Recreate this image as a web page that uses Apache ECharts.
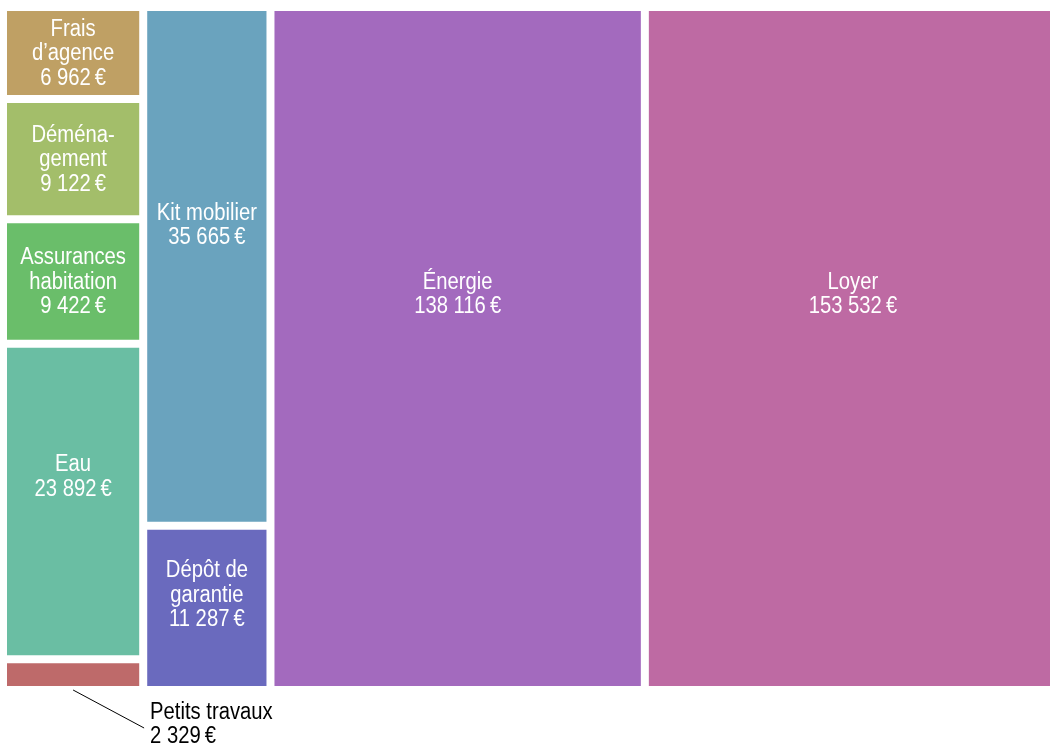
<!DOCTYPE html>
<html>
<head>
<meta charset="utf-8">
<script src="https://cdn.jsdelivr.net/npm/echarts@6/dist/echarts.min.js"></script>
<style>
  html, body { margin: 0; padding: 0; background: #fff; overflow: hidden; width: 1050px; height: 745px; }
  #chart { width: 1064px; height: 745px; }
</style>
</head>
<body>
<div id="chart"></div>
<script>
// Budget items, stacked column by column from left to right
const categories = ['Frais\nd’agence', 'Déména-\ngement', 'Assurances\nhabitation', 'Eau', 'Petits travaux',
                    'Kit mobilier', 'Dépôt de garantie', 'Énergie', 'Loyer'];
const amounts = [6962, 9122, 9422, 23892, 2329, 35665, 11287, 138116, 153532];
const columnOf = [0, 0, 0, 0, 0, 1, 1, 2, 3];
const colors = ['#bfa064', '#a3be6a', '#6abe6a', '#6abea3', '#be6a6a', '#6aa3be', '#6a6abe', '#a36abe', '#be6aa3'];

// Condensed look: a regular sans squeezed horizontally
const FONT = "23px 'Liberation Sans', Arial, sans-serif";
const SQUEEZE = 0.88;
const LINE_H = 24.5;
const GAP = 4;

function euros(n) {
  return String(n).replace(/\B(?=(\d{3})+(?!\d))/g, ' ') + '\u2009€';
}

const measureCtx = document.createElement('canvas').getContext('2d');
measureCtx.font = FONT;
// Word-wrap each explicit line so it fits the available (squeezed) width
function wrap(text, maxW) {
  const out = [];
  text.split('\n').forEach(line => {
    const words = line.split(' ');
    let cur = '';
    words.forEach(wd => {
      const test = cur ? cur + ' ' + wd : wd;
      if (cur && measureCtx.measureText(test).width * SQUEEZE > maxW) {
        out.push(cur);
        cur = wd;
      } else {
        cur = test;
      }
    });
    out.push(cur);
  });
  return out;
}

// Column widths follow each column's total; heights follow each item's share of its column
const nCols = Math.max(...columnOf) + 1;
const colSums = new Array(nCols).fill(0);
amounts.forEach((v, i) => { colSums[columnOf[i]] += v; });
const total = colSums.reduce((a, b) => a + b, 0);
const colStart = [];
let acc = 0;
colSums.forEach((s, c) => { colStart[c] = acc; acc += s; });
const yAcc = new Array(nCols).fill(0);
const cells = amounts.map((v, i) => {
  const c = columnOf[i];
  const y0 = yAcc[c] / colSums[c];
  yAcc[c] += v;
  const y1 = yAcc[c] / colSums[c];
  return [colStart[c], colStart[c] + colSums[c], y0, y1, i];
});

function renderItem(params, api) {
  const i = api.value(4);
  const p0 = api.coord([api.value(0), api.value(2)]);
  const p1 = api.coord([api.value(1), api.value(3)]);
  const x = p0[0] + GAP, y = p0[1] + GAP;
  const w = p1[0] - p0[0] - 2 * GAP, h = p1[1] - p0[1] - 2 * GAP;
  const lines = wrap(categories[i], w - 4);
  lines.push(euros(amounts[i]));
  const textH = lines.length * LINE_H;
  const children = [{
    type: 'rect',
    shape: { x: x, y: y, width: w, height: h },
    style: { fill: colors[i] }
  }];
  if (h >= textH + 4) {
    // short cells: centred label; tall cells: label sits a little above the middle
    const cy = h < 2 * textH ? y + h / 2 + 1 : y + 0.42 * h;
    children.push({
      type: 'text',
      x: x + w / 2, y: cy, scaleX: SQUEEZE,
      style: {
        text: lines.join('\n'), x: 0, y: 0,
        fill: '#fff', font: FONT, lineHeight: LINE_H,
        align: 'center', verticalAlign: 'middle'
      }
    });
  } else {
    const cx = x + w / 2, bottom = y + h;
    children.push({
      type: 'line',
      shape: { x1: cx, y1: bottom + 4, x2: cx + 71, y2: bottom + 42 },
      style: { stroke: '#000', lineWidth: 1 }
    });
    children.push({
      type: 'text',
      x: cx + 77, y: bottom + 14, scaleX: SQUEEZE,
      style: {
        text: categories[i] + '\n' + euros(amounts[i]), x: 0, y: 0,
        fill: '#000', font: FONT, lineHeight: LINE_H,
        align: 'left', verticalAlign: 'top'
      }
    });
  }
  return { type: 'group', children: children };
}

const chart = echarts.init(document.getElementById('chart'));
chart.setOption({
  animation: false,
  grid: { left: 3, top: 7, right: 3, height: 683 },
  xAxis: { type: 'value', min: 0, max: total, show: false },
  yAxis: { type: 'value', min: 0, max: 1, inverse: true, show: false },
  series: [{
    type: 'custom',
    clip: false,
    renderItem: renderItem,
    encode: { x: [0, 1], y: [2, 3] },
    data: cells
  }]
});
</script>
</body>
</html>
